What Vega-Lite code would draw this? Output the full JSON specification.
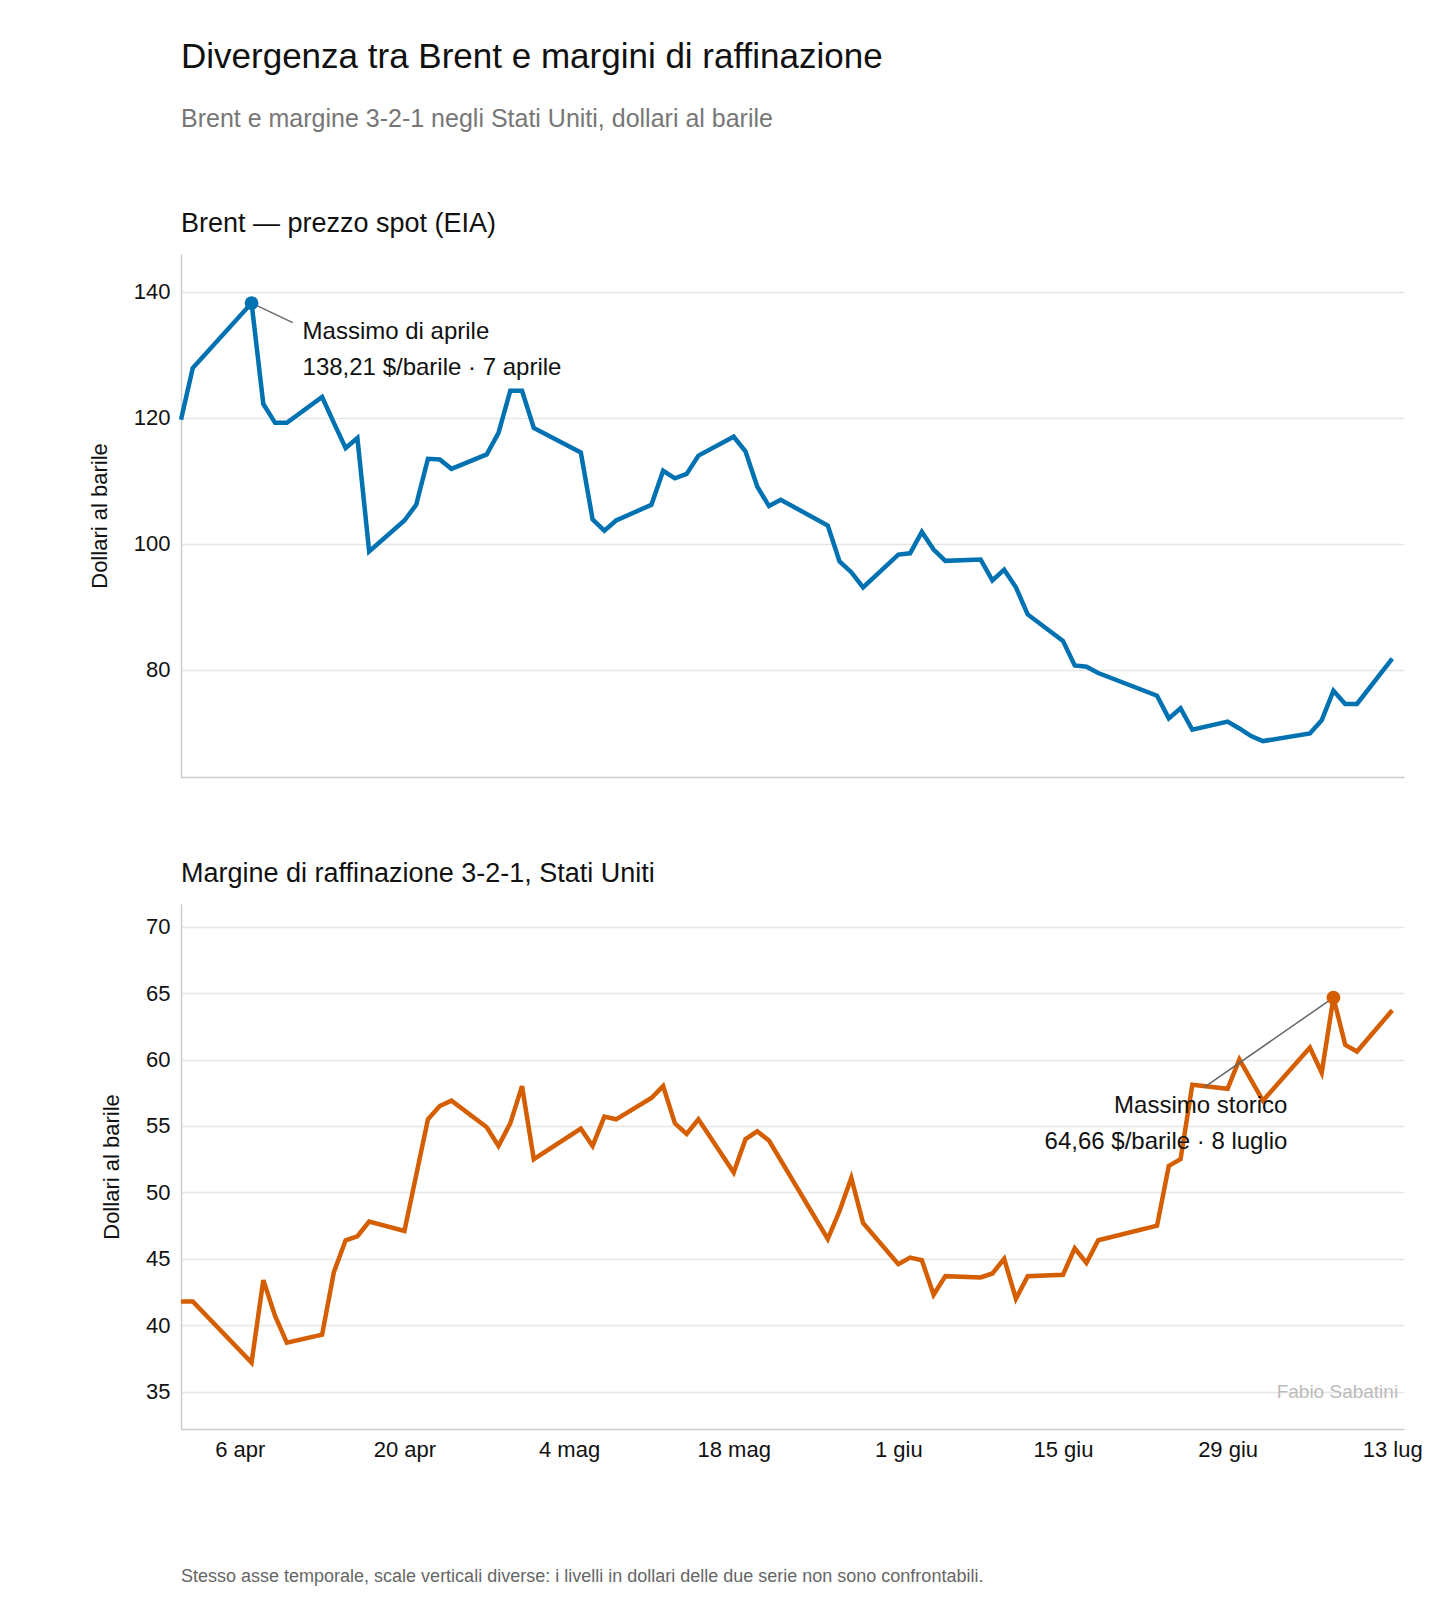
{
  "$schema": "https://vega.github.io/schema/vega-lite/v6.json",
  "background": "white",
  "padding": {"left": 88, "top": 40, "right": 60, "bottom": 5},
  "bounds": "flush",
  "spacing": 127,
  "title": {
    "text": "Divergenza tra Brent e margini di raffinazione",
    "subtitle": "Brent e margine 3-2-1 negli Stati Uniti, dollari al barile",
    "anchor": "start",
    "frame": "group",
    "fontSize": 35,
    "fontWeight": "normal",
    "color": "#111",
    "subtitleFontSize": 25,
    "subtitleColor": "#777",
    "subtitlePadding": 32,
    "offset": 78
  },
  "config": {
    "font": "Liberation Sans",
    "view": {"stroke": null},
    "axis": {
      "labelFontSize": 22,
      "titleFontSize": 22,
      "titleFontWeight": "normal",
      "labelColor": "#111",
      "titleColor": "#111",
      "domainColor": "#ccc",
      "domainWidth": 1.5,
      "gridColor": "#e6e6e6",
      "gridWidth": 1.5
    },
    "title": {"fontSize": 27, "fontWeight": "normal", "anchor": "start", "frame": "group", "color": "#111", "offset": 16}
  },
  "datasets": {
    "brent": [
      {"d": "2026-04-01", "v": 119.7}, {"d": "2026-04-02", "v": 127.9}, {"d": "2026-04-07", "v": 138.21},
      {"d": "2026-04-08", "v": 122.2}, {"d": "2026-04-09", "v": 119.2}, {"d": "2026-04-10", "v": 119.2},
      {"d": "2026-04-13", "v": 123.3}, {"d": "2026-04-14", "v": 119.2}, {"d": "2026-04-15", "v": 115.2},
      {"d": "2026-04-16", "v": 116.8}, {"d": "2026-04-17", "v": 98.8}, {"d": "2026-04-20", "v": 103.7},
      {"d": "2026-04-21", "v": 106.2}, {"d": "2026-04-22", "v": 113.5}, {"d": "2026-04-23", "v": 113.4},
      {"d": "2026-04-24", "v": 111.9}, {"d": "2026-04-27", "v": 114.2}, {"d": "2026-04-28", "v": 117.6},
      {"d": "2026-04-29", "v": 124.3}, {"d": "2026-04-30", "v": 124.3}, {"d": "2026-05-01", "v": 118.4},
      {"d": "2026-05-05", "v": 114.5}, {"d": "2026-05-06", "v": 103.9}, {"d": "2026-05-07", "v": 102.1},
      {"d": "2026-05-08", "v": 103.7}, {"d": "2026-05-11", "v": 106.2}, {"d": "2026-05-12", "v": 111.6},
      {"d": "2026-05-13", "v": 110.4}, {"d": "2026-05-14", "v": 111.1}, {"d": "2026-05-15", "v": 114.0},
      {"d": "2026-05-18", "v": 117.0}, {"d": "2026-05-19", "v": 114.7}, {"d": "2026-05-20", "v": 109.1},
      {"d": "2026-05-21", "v": 106.0}, {"d": "2026-05-22", "v": 107.0}, {"d": "2026-05-26", "v": 102.9},
      {"d": "2026-05-27", "v": 97.2}, {"d": "2026-05-28", "v": 95.5}, {"d": "2026-05-29", "v": 93.1},
      {"d": "2026-06-01", "v": 98.3}, {"d": "2026-06-02", "v": 98.5}, {"d": "2026-06-03", "v": 101.9},
      {"d": "2026-06-04", "v": 99.1}, {"d": "2026-06-05", "v": 97.3}, {"d": "2026-06-08", "v": 97.5},
      {"d": "2026-06-09", "v": 94.2}, {"d": "2026-06-10", "v": 95.9}, {"d": "2026-06-11", "v": 93.1},
      {"d": "2026-06-12", "v": 88.8}, {"d": "2026-06-15", "v": 84.6}, {"d": "2026-06-16", "v": 80.7},
      {"d": "2026-06-17", "v": 80.5}, {"d": "2026-06-18", "v": 79.5}, {"d": "2026-06-23", "v": 75.9},
      {"d": "2026-06-24", "v": 72.3}, {"d": "2026-06-25", "v": 73.9}, {"d": "2026-06-26", "v": 70.5},
      {"d": "2026-06-29", "v": 71.8}, {"d": "2026-06-30", "v": 70.7}, {"d": "2026-07-01", "v": 69.5},
      {"d": "2026-07-02", "v": 68.7}, {"d": "2026-07-06", "v": 69.9}, {"d": "2026-07-07", "v": 72.0},
      {"d": "2026-07-08", "v": 76.7}, {"d": "2026-07-09", "v": 74.6}, {"d": "2026-07-10", "v": 74.6},
      {"d": "2026-07-13", "v": 81.8}
    ],
    "margin": [
      {"d": "2026-04-01", "v": 41.8}, {"d": "2026-04-02", "v": 41.8}, {"d": "2026-04-07", "v": 37.2},
      {"d": "2026-04-08", "v": 43.4}, {"d": "2026-04-09", "v": 40.7}, {"d": "2026-04-10", "v": 38.7},
      {"d": "2026-04-13", "v": 39.3}, {"d": "2026-04-14", "v": 44.0}, {"d": "2026-04-15", "v": 46.4},
      {"d": "2026-04-16", "v": 46.7}, {"d": "2026-04-17", "v": 47.8}, {"d": "2026-04-20", "v": 47.1},
      {"d": "2026-04-21", "v": 51.3}, {"d": "2026-04-22", "v": 55.5}, {"d": "2026-04-23", "v": 56.5},
      {"d": "2026-04-24", "v": 56.9}, {"d": "2026-04-27", "v": 54.9}, {"d": "2026-04-28", "v": 53.5},
      {"d": "2026-04-29", "v": 55.2}, {"d": "2026-04-30", "v": 58.0}, {"d": "2026-05-01", "v": 52.5},
      {"d": "2026-05-05", "v": 54.8}, {"d": "2026-05-06", "v": 53.5}, {"d": "2026-05-07", "v": 55.7},
      {"d": "2026-05-08", "v": 55.5}, {"d": "2026-05-11", "v": 57.1}, {"d": "2026-05-12", "v": 58.0},
      {"d": "2026-05-13", "v": 55.2}, {"d": "2026-05-14", "v": 54.4}, {"d": "2026-05-15", "v": 55.5},
      {"d": "2026-05-18", "v": 51.5}, {"d": "2026-05-19", "v": 54.0}, {"d": "2026-05-20", "v": 54.6},
      {"d": "2026-05-21", "v": 53.9}, {"d": "2026-05-26", "v": 46.5}, {"d": "2026-05-27", "v": 48.6},
      {"d": "2026-05-28", "v": 51.1}, {"d": "2026-05-29", "v": 47.7}, {"d": "2026-06-01", "v": 44.6},
      {"d": "2026-06-02", "v": 45.1}, {"d": "2026-06-03", "v": 44.9}, {"d": "2026-06-04", "v": 42.3},
      {"d": "2026-06-05", "v": 43.7}, {"d": "2026-06-08", "v": 43.6}, {"d": "2026-06-09", "v": 43.9},
      {"d": "2026-06-10", "v": 45.0}, {"d": "2026-06-11", "v": 42.0}, {"d": "2026-06-12", "v": 43.7},
      {"d": "2026-06-15", "v": 43.8}, {"d": "2026-06-16", "v": 45.8}, {"d": "2026-06-17", "v": 44.7},
      {"d": "2026-06-18", "v": 46.4}, {"d": "2026-06-23", "v": 47.5}, {"d": "2026-06-24", "v": 52.0},
      {"d": "2026-06-25", "v": 52.5}, {"d": "2026-06-26", "v": 58.1}, {"d": "2026-06-29", "v": 57.8},
      {"d": "2026-06-30", "v": 60.0}, {"d": "2026-07-02", "v": 56.9}, {"d": "2026-07-06", "v": 60.9},
      {"d": "2026-07-07", "v": 59.0}, {"d": "2026-07-08", "v": 64.66}, {"d": "2026-07-09", "v": 61.1},
      {"d": "2026-07-10", "v": 60.6}, {"d": "2026-07-13", "v": 63.7}
    ]
  },
  "vconcat": [
    {
      "title": "Brent — prezzo spot (EIA)",
      "width": 1223,
      "height": 523,
      "layer": [
        {
          "data": {"name": "brent"},
          "mark": {"type": "line", "color": "#0072B2", "strokeWidth": 4.5},
          "encoding": {
            "x": {"field": "d", "type": "temporal", "title": null,
              "scale": {"type": "utc", "domain": [{"utc": true, "year": 2026, "month": 4, "date": 1}, {"utc": true, "year": 2026, "month": 7, "date": 14}]},
              "axis": {"labels": false, "ticks": false, "grid": false}},
            "y": {"field": "v", "type": "quantitative", "title": "Dollari al barile",
              "scale": {"domain": [63, 146], "nice": false, "zero": false},
              "axis": {"values": [80, 100, 120, 140], "ticks": false, "labelPadding": 11, "titlePadding": 22}}
          }
        },
        {
          "data": {"values": [{"d": "2026-04-07", "v": 138.21, "d2": "2026-04-10T12:00", "v2": 135.1, "t": ["Massimo di aprile", "138,21 $/barile · 7 aprile"]}]},
          "layer": [
            {"mark": {"type": "rule", "color": "#666", "strokeWidth": 1.5},
              "encoding": {"x": {"field": "d", "type": "temporal"}, "y": {"field": "v", "type": "quantitative"},
                "x2": {"field": "d2"}, "y2": {"field": "v2"}}},
            {"mark": {"type": "point", "filled": true, "size": 190, "color": "#0072B2", "opacity": 1},
              "encoding": {"x": {"field": "d", "type": "temporal"}, "y": {"field": "v", "type": "quantitative"}}},
            {"mark": {"type": "text", "align": "left", "baseline": "middle", "fontSize": 24, "dx": 51, "dy": 29, "lineHeight": 36, "color": "#111"},
              "encoding": {"x": {"field": "d", "type": "temporal"}, "y": {"field": "v", "type": "quantitative"}, "text": {"field": "t"}}}
          ]
        }
      ]
    },
    {
      "title": "Margine di raffinazione 3-2-1, Stati Uniti",
      "width": 1223,
      "height": 525,
      "layer": [
        {
          "data": {"name": "margin"},
          "mark": {"type": "line", "color": "#D55E00", "strokeWidth": 4.5},
          "encoding": {
            "x": {"field": "d", "type": "temporal", "title": null,
              "scale": {"type": "utc", "domain": [{"utc": true, "year": 2026, "month": 4, "date": 1}, {"utc": true, "year": 2026, "month": 7, "date": 14}]},
              "axis": {"grid": false, "ticks": false, "labelPadding": 10,
                "values": [
                  {"utc": true, "year": 2026, "month": 4, "date": 6}, {"utc": true, "year": 2026, "month": 4, "date": 20},
                  {"utc": true, "year": 2026, "month": 5, "date": 4}, {"utc": true, "year": 2026, "month": 5, "date": 18},
                  {"utc": true, "year": 2026, "month": 6, "date": 1}, {"utc": true, "year": 2026, "month": 6, "date": 15},
                  {"utc": true, "year": 2026, "month": 6, "date": 29}, {"utc": true, "year": 2026, "month": 7, "date": 13}],
                "labelExpr": "utcdate(datum.value) + ' ' + ['gen','feb','mar','apr','mag','giu','lug','ago','set','ott','nov','dic'][utcmonth(datum.value)]"}},
            "y": {"field": "v", "type": "quantitative", "title": "Dollari al barile",
              "scale": {"domain": [32.2, 71.7], "nice": false, "zero": false},
              "axis": {"values": [35, 40, 45, 50, 55, 60, 65, 70], "ticks": false, "labelPadding": 11, "titlePadding": 22}}
          }
        },
        {
          "data": {"values": [{"d": "2026-07-08", "v": 64.66, "d2": "2026-06-27", "v2": 57.9, "t": ["Massimo storico", "64,66 $/barile · 8 luglio"]}]},
          "layer": [
            {"mark": {"type": "rule", "color": "#666", "strokeWidth": 1.5},
              "encoding": {"x": {"field": "d", "type": "temporal"}, "y": {"field": "v", "type": "quantitative"},
                "x2": {"field": "d2"}, "y2": {"field": "v2"}}},
            {"mark": {"type": "point", "filled": true, "size": 190, "color": "#D55E00", "opacity": 1},
              "encoding": {"x": {"field": "d", "type": "temporal"}, "y": {"field": "v", "type": "quantitative"}}},
            {"mark": {"type": "text", "align": "right", "baseline": "middle", "fontSize": 24, "dx": -46, "dy": 108, "lineHeight": 36, "color": "#111"},
              "encoding": {"x": {"field": "d", "type": "temporal"}, "y": {"field": "v", "type": "quantitative"}, "text": {"field": "t"}}}
          ]
        },
        {
          "data": {"values": [{"d": "2026-07-13T12:00", "v": 35, "t": "Fabio Sabatini"}]},
          "mark": {"type": "text", "align": "right", "baseline": "middle", "fontSize": 19, "color": "#bbb"},
          "encoding": {"x": {"field": "d", "type": "temporal"}, "y": {"field": "v", "type": "quantitative"}, "text": {"field": "t"}}
        }
      ]
    },
    {
      "width": 1223,
      "height": 120,
      "data": {"values": [
        {"i": 1, "t": "Stesso asse temporale, scale verticali diverse: i livelli in dollari delle due serie non sono confrontabili."},
        {"i": 2, "t": "Fonte: EIA. Crack spread 3-2-1 ricostruito da WTI spot, benzina convenzionale e ULSD No. 2 New York Harbor."},
        {"i": 3, "t": "Elaborazione di Fabio Sabatini."}
      ]},
      "mark": {"type": "text", "align": "left", "baseline": "middle", "fontSize": 18, "color": "#666"},
      "encoding": {
        "x": {"value": 0},
        "y": {"field": "i", "type": "quantitative", "scale": {"domain": [0.5, 3.3], "reverse": true}, "axis": null},
        "text": {"field": "t"}
      }
    }
  ]
}
